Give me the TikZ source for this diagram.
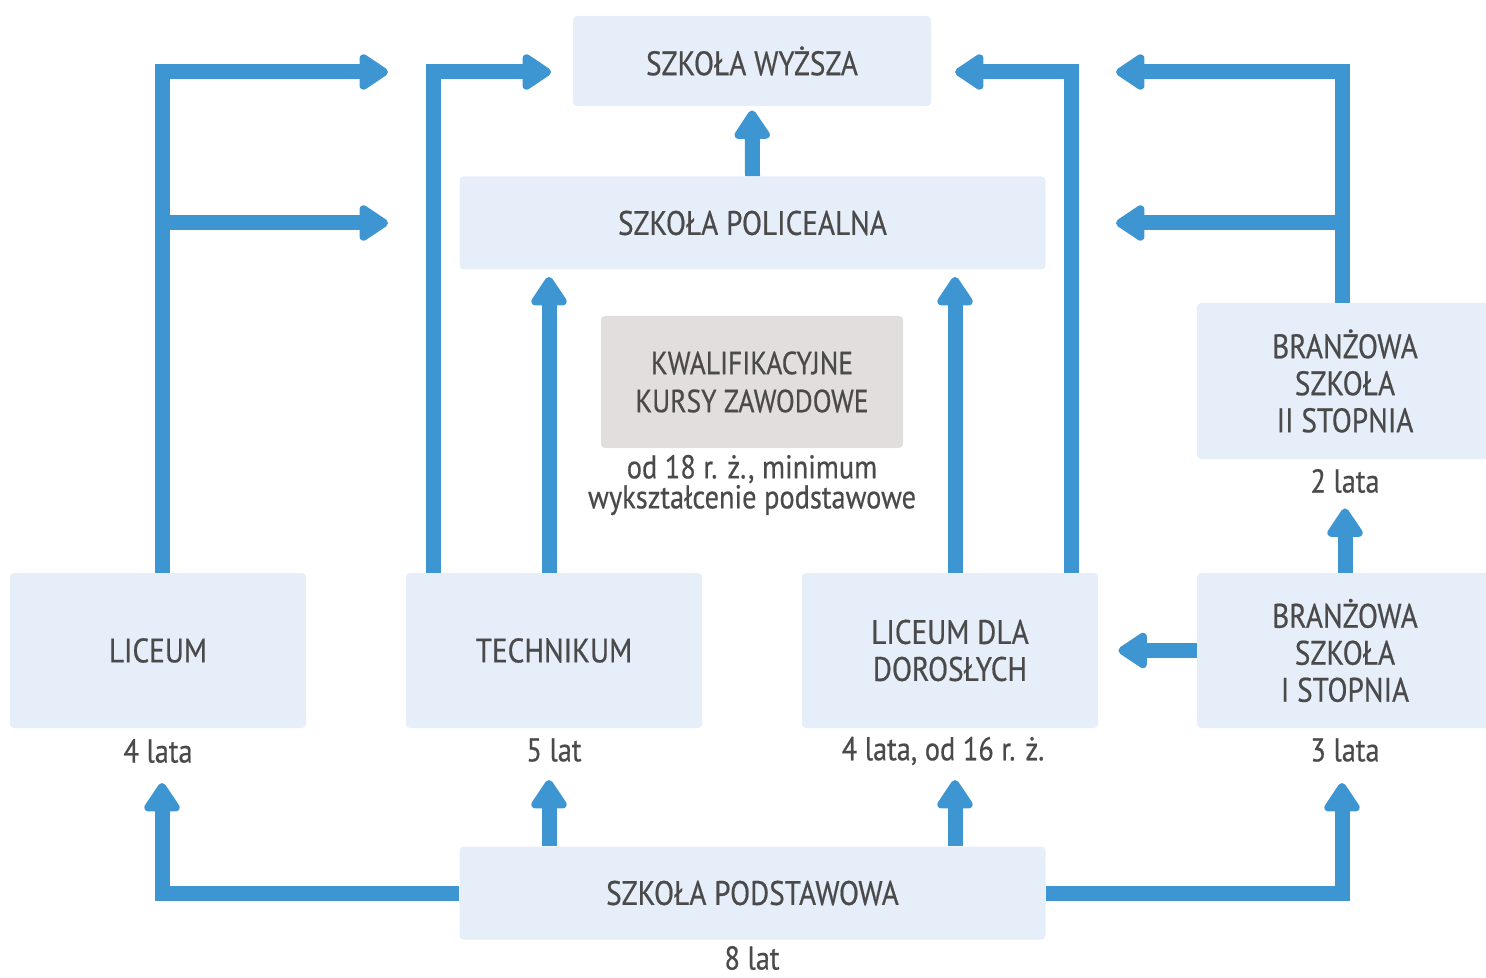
\documentclass[tikz,border=0pt]{standalone}
\usepackage{fontspec}
\setmainfont[FakeStretch=0.86,FakeBold=0.5]{PT Sans}
\usetikzlibrary{arrows.meta}
\definecolor{boxblue}{HTML}{E6EEF9}
\definecolor{boxgray}{HTML}{E1DEDD}
\definecolor{arrowblue}{HTML}{3D95D2}
\definecolor{textgray}{HTML}{4A4A4A}
\tikzset{
  box/.style={fill=boxblue, rounded corners=2pt, inner sep=0pt, align=center,
    text=textgray, font=\fontsize{17}{18.5}\selectfont},
  smallbox/.style={box, minimum width=148pt, minimum height=77.5pt},
  widebox/.style={box, minimum width=293pt, minimum height=46.5pt},
  years/.style={text=textgray, font=\fontsize{16.5}{15}\selectfont, inner sep=0pt},
  flow/.style={draw=arrowblue, line width=7.5pt,
    -{Triangle[width=20pt,length=16pt,round]}}
}
\begin{document}
\begin{tikzpicture}[x=0.5pt,y=-0.5pt]
\useasboundingbox (0,0) rectangle (1486,978);
% boxes
\node[box, minimum width=179pt, minimum height=45pt] (wyzsza) at (752,61) {SZKOŁA WYŻSZA};
\node[widebox] (policealna) at (752.5,223) {SZKOŁA POLICEALNA};
\node[box, fill=boxgray, minimum width=151pt, minimum height=66pt, font=\fontsize{16}{19}\selectfont]
  (kursy) at (752,382) {KWALIFIKACYJNE\\KURSY ZAWODOWE};
\node[years, align=center] (kursywiek) at (752,485)
  {od 18 r. ż., minimum\\wykształcenie podstawowe};
\node[smallbox] (liceum) at (158,650.5) {LICEUM};
\node[smallbox] (technikum) at (554,650.5) {TECHNIKUM};
\node[smallbox] (dorosli) at (950,650.5) {LICEUM DLA\\DOROSŁYCH};
\node[smallbox] (branzowa1) at (1345,650.5) {BRANŻOWA\\SZKOŁA\\I STOPNIA};
\node[smallbox, minimum height=78pt] (branzowa2) at (1345,381) {BRANŻOWA\\SZKOŁA\\II STOPNIA};
\node[widebox] (podstawowa) at (752.5,893) {SZKOŁA PODSTAWOWA};
% durations
\node[years] (liceumlat) at (158,751) {4 lata};
\node[years] (technikumlat) at (554,750) {5 lat};
\node[years] (doroslilat) at (943,751) {4 lata, od 16 r. ż.};
\node[years] (branzowa1lat) at (1345,750) {3 lata};
\node[years] (branzowa2lat) at (1345,481) {2 lata};
\node[years] (podstawowalat) at (752,958) {8 lat};
% free arrow ends
\coordinate (tipL1) at (388,72);
\coordinate (tipL2) at (388,223);
\coordinate (tipT) at (551,72);
\coordinate (tipD) at (955,72);
\coordinate (tipB1) at (1116,72);
\coordinate (tipB2) at (1116,223);
\coordinate (tipPL) at (162,783);
\coordinate (tipPT) at (549,780);
\coordinate (tipPD) at (955,780);
\coordinate (tipPB) at (1342,783);
\coordinate (lshaft) at ([xshift=2pt]liceum.north);
\coordinate (bshaft) at ([xshift=-1.5pt]branzowa2.north);
% arrows up
\draw[flow] (lshaft) |- (tipL1);
\draw[flow] (lshaft |- tipL2) -- (tipL2);
\draw[flow] ([xshift=-60.5pt]technikum.north) |- (tipT);
\draw[flow, shorten >=3.5pt] ([xshift=-2.5pt]technikum.north) -- ([xshift=-2.5pt]technikum.north |- policealna.south);
\draw[flow, shorten >=2pt] (policealna.north) -- (wyzsza.south);
\draw[flow, shorten >=3.5pt] ([xshift=2.5pt]dorosli.north) -- ([xshift=2.5pt]dorosli.north |- policealna.south);
\draw[flow] ([xshift=60.5pt]dorosli.north) |- (tipD);
\draw[flow] (bshaft) |- (tipB1);
\draw[flow] (bshaft |- tipB2) -- (tipB2);
\draw[flow, shorten >=10pt] (branzowa1.west) -- (dorosli.east);
\draw[flow, shorten >=24.5pt] (branzowa1.north) -- (branzowa2.south);
% arrows from the bottom
\draw[flow] (podstawowa.west) -| (tipPL);
\draw[flow] (podstawowa.north -| tipPT) -- (tipPT);
\draw[flow] (podstawowa.north -| tipPD) -- (tipPD);
\draw[flow] (podstawowa.east) -| (tipPB);
\end{tikzpicture}
\end{document}
